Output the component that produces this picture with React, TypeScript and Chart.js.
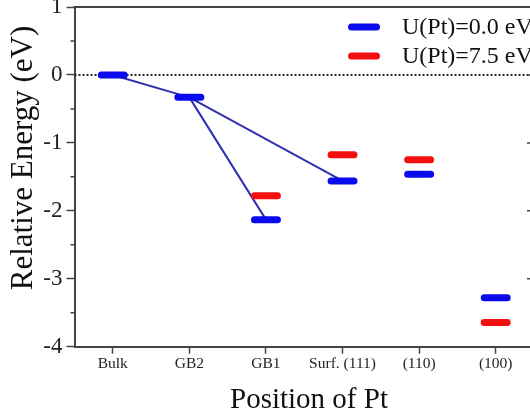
import React, { useEffect, useRef } from "react";
import { Chart, registerables } from "chart.js";

Chart.register(...registerables);

const categories = ["Bulk", "GB2", "GB1", "Surf. (111)", "(110)", "(100)"];
const u0Values: (number | null)[] = [0, -0.33, -2.13, -1.56, -1.46, -3.28];
const u75Values: (number | null)[] = [null, null, -1.78, -1.175, -1.25, -3.645];
const connections: [number, number][] = [
  [0, 1],
  [1, 2],
  [1, 3],
];
const yTickValues = [1, 0, -1, -2, -3, -4];
const yMinorValues = [0.5, -0.5, -1.5, -2.5, -3.5];
const seriesLabels = ["U(Pt)=0.0 eV", "U(Pt)=7.5 eV"];
const xTitle = "Position of Pt";
const yTitle = "Relative Energy (eV)";

const BLUE = "#0a0aee";
const RED = "#f41010";
const LINK = "#3030b0";
const AXIS = "#444";
const SERIF = "'Liberation Serif', 'Times New Roman', serif";
const HALF = 0.15;

function levelPoints(values: (number | null)[]) {
  const pts: { x: number; y: number | null }[] = [];
  values.forEach((v, i) => {
    if (v === null) return;
    pts.push({ x: i - HALF, y: v }, { x: i + HALF, y: v }, { x: i + 0.4, y: null });
  });
  return pts;
}

function linkPoints() {
  const pts: { x: number; y: number | null }[] = [];
  connections.forEach(([a, b]) => {
    pts.push({ x: a, y: u0Values[a] }, { x: b, y: u0Values[b] }, { x: b + 0.01, y: null });
  });
  return pts;
}

const decorPlugin = {
  id: "decor",
  afterDraw(chart: any) {
    const { ctx, chartArea, scales } = chart;
    const y = scales.y;
    ctx.save();
    // top and right frame
    ctx.strokeStyle = AXIS;
    ctx.lineWidth = 2;
    ctx.beginPath();
    ctx.moveTo(chartArea.left - 1, chartArea.top);
    ctx.lineTo(chartArea.right, chartArea.top);
    ctx.lineTo(chartArea.right, chartArea.bottom);
    ctx.stroke();
    // minor ticks left (outward) and right (inward)
    ctx.lineWidth = 1.5;
    ctx.beginPath();
    yMinorValues.forEach((v) => {
      const py = y.getPixelForValue(v);
      ctx.moveTo(chartArea.left - 4, py);
      ctx.lineTo(chartArea.left, py);
      ctx.moveTo(chartArea.right, py);
      ctx.lineTo(chartArea.right - 4, py);
    });
    yTickValues.forEach((v) => {
      const py = y.getPixelForValue(v);
      ctx.moveTo(chartArea.right, py);
      ctx.lineTo(chartArea.right - 7, py);
    });
    ctx.stroke();

    // axis titles
    ctx.fillStyle = "#111";
    ctx.font = `29px ${SERIF}`;
    ctx.textAlign = "center";
    ctx.textBaseline = "alphabetic";
    ctx.fillText(xTitle, 309, 408);
    ctx.save();
    ctx.font = `31px ${SERIF}`;
    ctx.translate(32, 158);
    ctx.rotate(-Math.PI / 2);
    ctx.fillText(yTitle, 0, 0);
    ctx.restore();

    // legend
    const colors = [BLUE, RED];
    const rows = [27, 56];
    ctx.lineCap = "round";
    ctx.lineWidth = 7;
    seriesLabels.forEach((label, i) => {
      ctx.strokeStyle = colors[i];
      ctx.beginPath();
      ctx.moveTo(351.5, rows[i]);
      ctx.lineTo(376.5, rows[i]);
      ctx.stroke();
      ctx.fillStyle = "#111";
      ctx.font = `24px ${SERIF}`;
      ctx.textAlign = "left";
      ctx.textBaseline = "middle";
      ctx.fillText(label, 402, rows[i] + 1);
    });
    ctx.restore();
  },
};

export default function App() {
  const ref = useRef<HTMLCanvasElement | null>(null);
  useEffect(() => {
    document.body.style.margin = "0";
    document.body.style.overflow = "hidden";
    if (!ref.current) return;
    const common = {
      pointRadius: 0,
      pointHoverRadius: 0,
      tension: 0,
      fill: false,
      spanGaps: false,
      borderCapStyle: "round",
      borderJoinStyle: "round",
    };
    const chart = new Chart(ref.current, {
      type: "line",
      data: {
        datasets: [
          { ...common, label: seriesLabels[0], data: levelPoints(u0Values), borderColor: BLUE, borderWidth: 7 },
          { ...common, label: seriesLabels[1], data: levelPoints(u75Values), borderColor: RED, borderWidth: 7 },
          { ...common, label: "links", data: linkPoints(), borderColor: LINK, borderWidth: 2 },
          {
            ...common,
            label: "zero",
            data: [
              { x: -0.5, y: 0 },
              { x: 5.5, y: 0 },
            ],
            borderColor: "#222",
            borderWidth: 2,
            borderDash: [2, 2],
            borderCapStyle: "butt",
          },
        ] as any,
      },
      options: {
        responsive: false,
        animation: false,
        layout: { padding: { top: 7, right: 66, left: 0, bottom: 0 } },
        plugins: { legend: { display: false }, tooltip: { enabled: false } },
        scales: {
          x: {
            type: "linear",
            min: -0.5,
            max: 5.5,
            afterBuildTicks: (s: any) => {
              s.ticks = categories.map((_, i) => ({ value: i }));
            },
            afterFit: (s: any) => {
              s.height = 70.3;
              s.paddingLeft = 0;
              s.paddingRight = 0;
            },
            ticks: {
              autoSkip: false,
              maxRotation: 0,
              padding: 1,
              color: "#222",
              font: { family: SERIF, size: 15.5 },
              callback: (v: any) => categories[v] ?? "",
            },
            grid: { drawOnChartArea: false, tickLength: 7, color: AXIS, tickWidth: 1.5 },
            border: { color: AXIS, width: 2 },
          },
          y: {
            type: "linear",
            min: -4,
            max: 1,
            afterBuildTicks: (s: any) => {
              s.ticks = yTickValues.map((v) => ({ value: v }));
            },
            afterFit: (s: any) => {
              s.width = 74.5;
              s.paddingTop = 0;
              s.paddingBottom = 0;
            },
            ticks: {
              padding: 4,
              color: "#222",
              font: { family: SERIF, size: 23 },
              callback: (v: any) => String(v),
            },
            grid: { drawOnChartArea: false, tickLength: 8, color: AXIS, tickWidth: 1.5 },
            border: { color: AXIS, width: 2 },
          },
        },
      } as any,
      plugins: [decorPlugin],
    });
    return () => chart.destroy();
  }, []);
  return (
    <div style={{ width: 530, height: 417, overflow: "hidden", position: "relative", background: "#fff" }}>
      <canvas ref={ref} width={600} height={417} style={{ display: "block" }} />
    </div>
  );
}
